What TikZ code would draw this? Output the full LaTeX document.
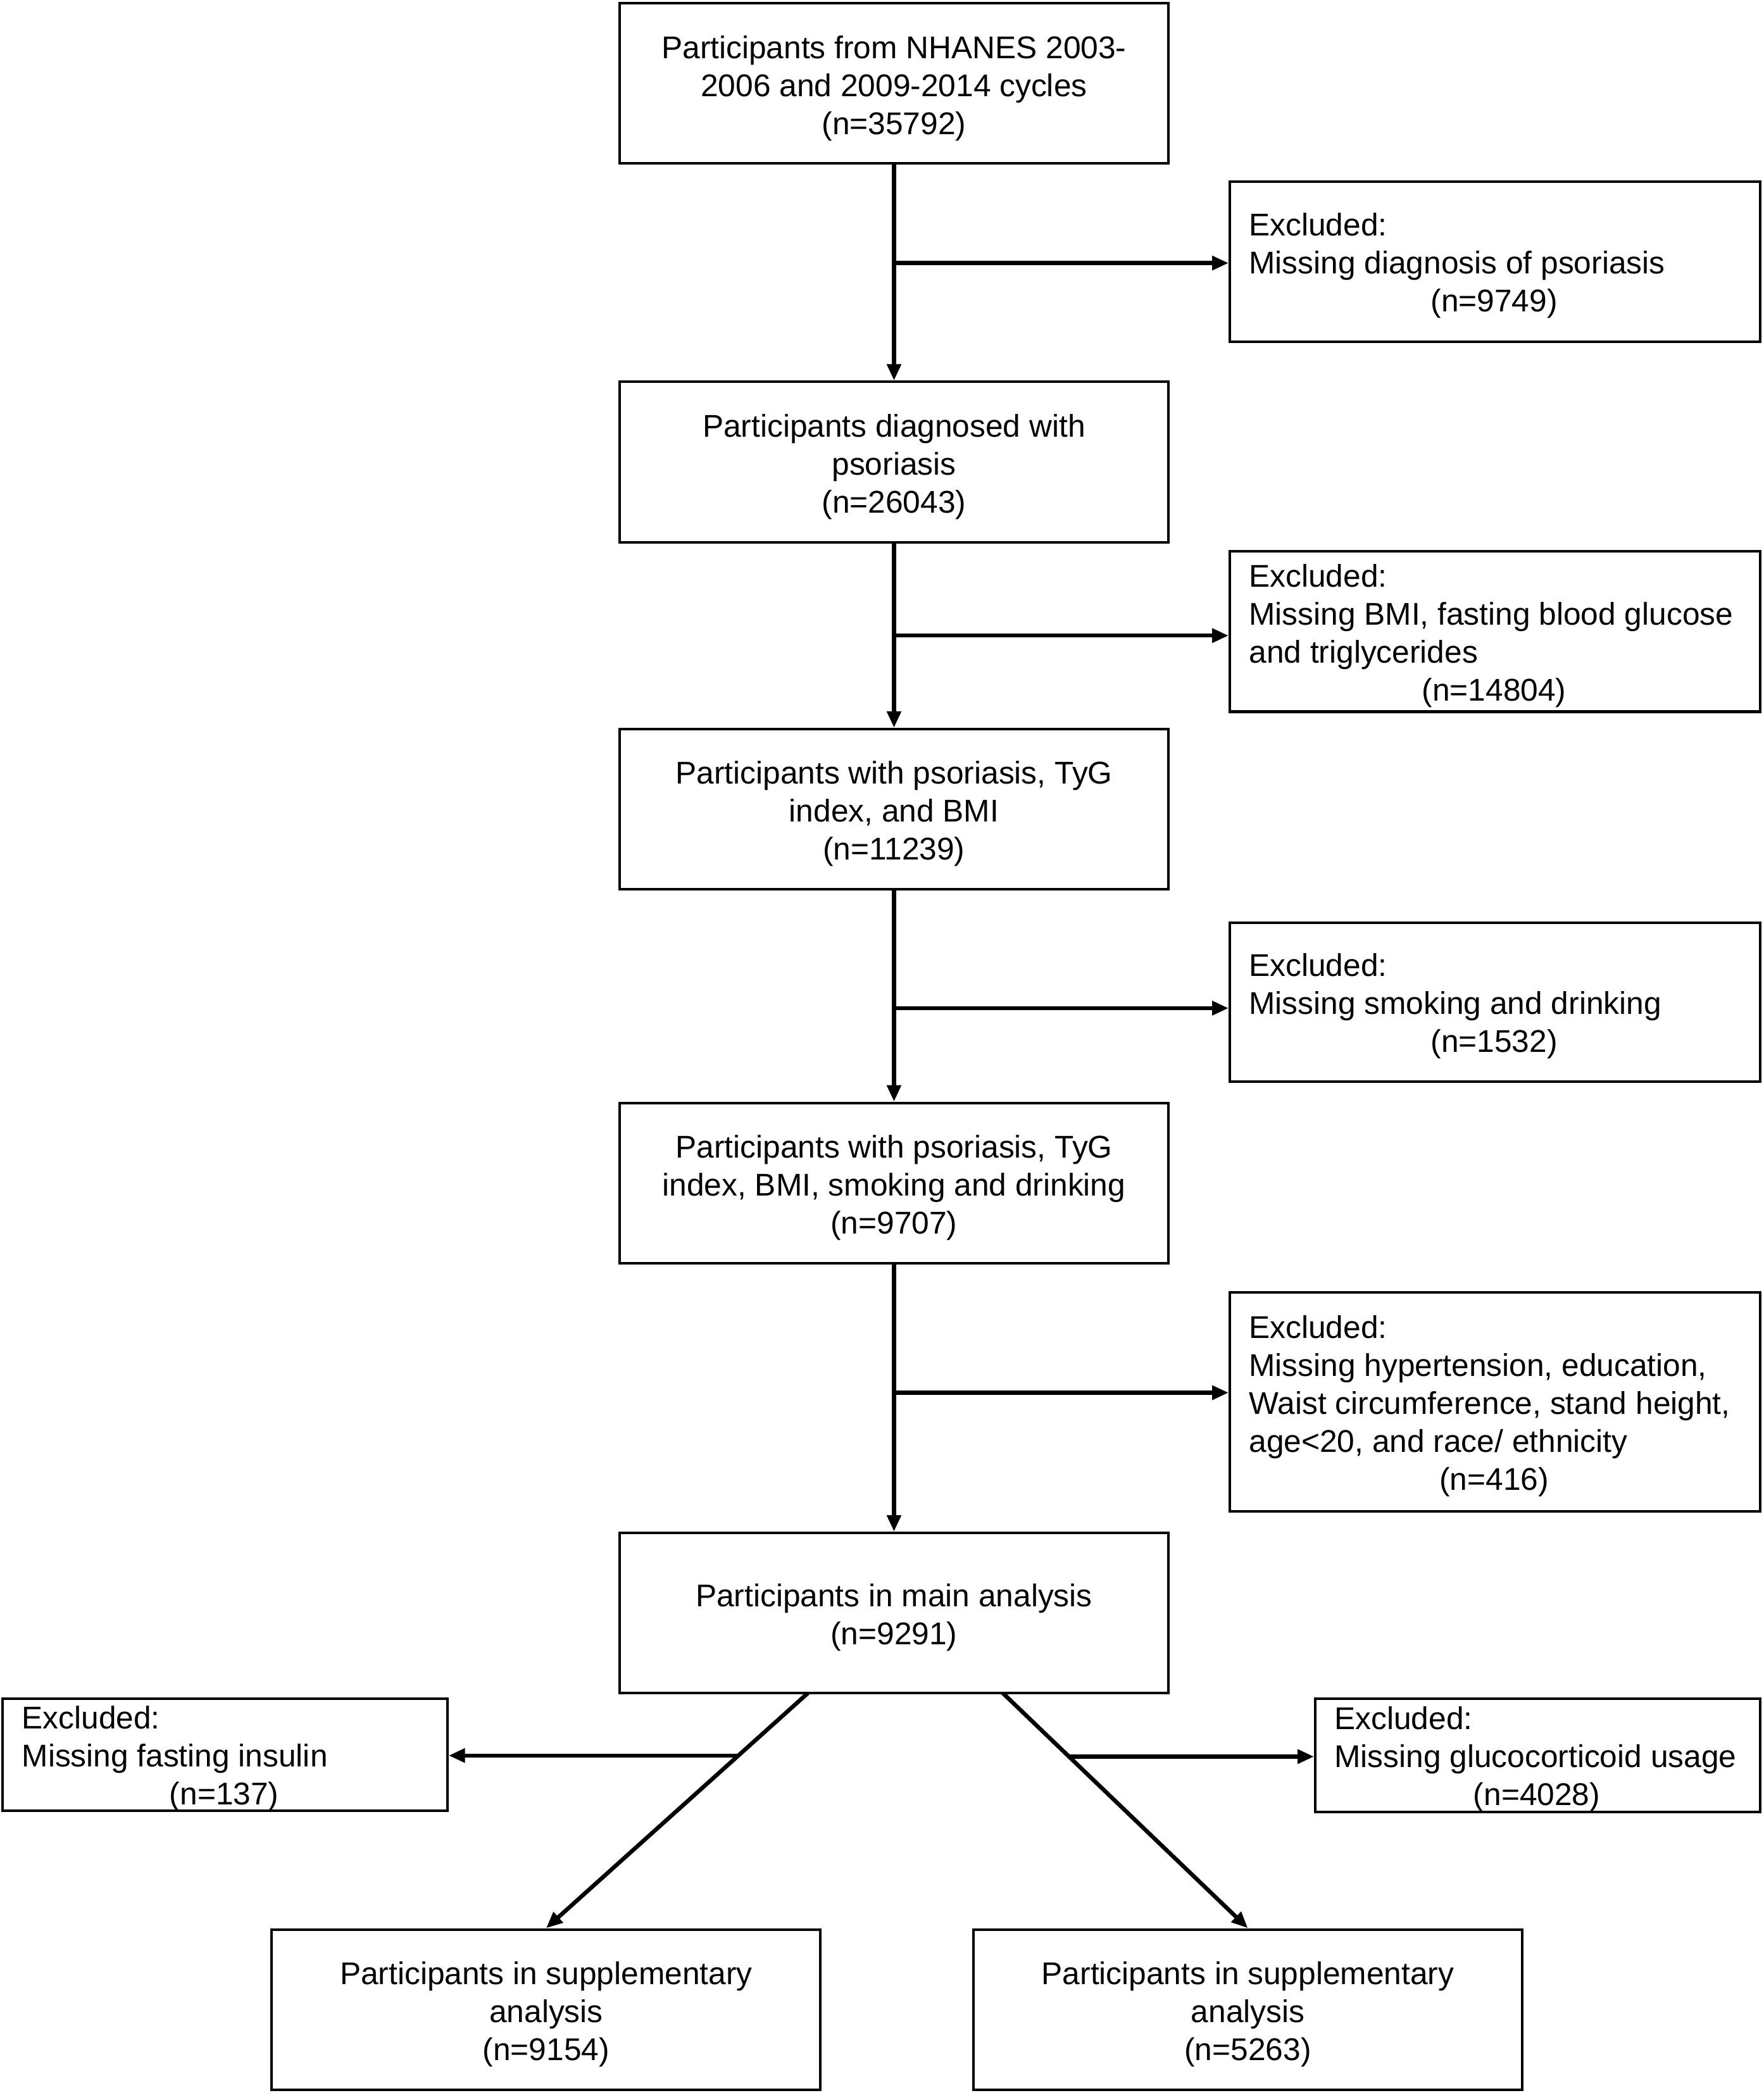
\documentclass[tikz,border=0pt]{standalone}
\usepackage{fontspec}
\setmainfont{Liberation Sans}
\usetikzlibrary{arrows.meta,calc}
\begin{document}
\begin{tikzpicture}[x=0.02cm,y=-0.02cm,
  txt/.style={font=\fontsize{13.4}{16.2}\selectfont},
  mainbox/.style={draw, line width=1.1pt, minimum width=8.22cm, minimum height=2.4cm, inner sep=0pt},
  mtext/.style={align=center, inner sep=0pt, txt},
  exbox/.style={draw, line width=1.1pt, inner sep=0pt},
  extext/.style={anchor=west, align=left, inner sep=0pt, txt},
  arr/.style={line width=1.75pt, -{Triangle[length=7pt,width=5.8pt]}}]
\useasboundingbox (0,0) rectangle (1321,1567.5);

% main column
\node[mainbox] (m1) at (669.5,62.5) {};
\node[mtext] (m1t) at ($(m1)+(0,3.5)$) {Participants from NHANES 2003-\\2006 and 2009-2014 cycles\\(n=35792)};
\node[mainbox] (m2) at (669.5,346) {};
\node[mtext] (m2t) at ($(m2)+(0,3.5)$) {Participants diagnosed with\\psoriasis\\(n=26043)};
\node[mainbox] (m3) at (669.5,606) {};
\node[mtext] (m3t) at ($(m3)+(0,3.5)$) {Participants with psoriasis, TyG\\index, and BMI\\(n=11239)};
\node[mainbox] (m4) at (669.5,886) {};
\node[mtext] (m4t) at ($(m4)+(0,3.5)$) {Participants with psoriasis, TyG\\index, BMI, smoking and drinking\\(n=9707)};
\node[mainbox] (m5) at (669.5,1208) {};
\node[mtext] (m5t) at ($(m5)+(0,3.5)$) {Participants in main analysis\\(n=9291)};
\node[mainbox] (s1) at (409,1505) {};
\node[mtext] (s1t) at ($(s1)+(0,3.5)$) {Participants in supplementary\\analysis\\(n=9154)};
\node[mainbox] (s2) at (934.5,1505) {};
\node[mtext] (s2t) at ($(s2)+(0,3.5)$) {Participants in supplementary\\analysis\\(n=5263)};

% exclusion boxes
\node[exbox, minimum width=7.94cm, minimum height=2.4cm] (e1) at (1119.5,196) {};
\node[extext] (e1t) at ($(e1.west)+(15,3)$) {Excluded:\\Missing diagnosis of psoriasis\\\hspace*{3.67cm}\makebox[0pt]{(n=9749)}};

\node[exbox, minimum width=7.94cm, minimum height=2.4cm] (e2) at (1119.5,473) {};
\node[extext] (e2t) at ($(e2.west)+(15,3)$) {Excluded:\\Missing BMI, fasting blood glucose\\and triglycerides\\\hspace*{3.67cm}\makebox[0pt]{(n=14804)}};

\node[exbox, minimum width=7.94cm, minimum height=2.38cm] (e3) at (1119.5,750.5) {};
\node[extext] (e3t) at ($(e3.west)+(15,3)$) {Excluded:\\Missing smoking and drinking\\\hspace*{3.67cm}\makebox[0pt]{(n=1532)}};

\node[exbox, minimum width=7.94cm, minimum height=3.28cm] (e4) at (1119.5,1050) {};
\node[extext] (e4t) at ($(e4.west)+(15,3)$) {Excluded:\\Missing hypertension, education,\\Waist circumference, stand height,\\age<20, and race/ ethnicity\\\hspace*{3.67cm}\makebox[0pt]{(n=416)}};

\node[exbox, minimum width=6.66cm, minimum height=1.68cm] (eL) at (168.5,1314) {};
\node[extext] (eLt) at ($(eL.west)+(15,3)$) {Excluded:\\Missing fasting insulin\\\hspace*{3.03cm}\makebox[0pt]{(n=137)}};

\node[exbox, minimum width=6.66cm, minimum height=1.7cm] (eR) at (1151.5,1314.5) {};
\node[extext] (eRt) at ($(eR.west)+(15,3)$) {Excluded:\\Missing glucocorticoid usage\\\hspace*{3.03cm}\makebox[0pt]{(n=4028)}};

% vertical arrows
\draw[arr] (m1.south) -- (m2.north);
\draw[arr] (m2.south) -- (m3.north);
\draw[arr] (m3.south) -- (m4.north);
\draw[arr] (m4.south) -- (m5.north);

% branch arrows
\coordinate (b1) at (669.5,197);
\coordinate (b2) at (669.5,476);
\coordinate (b3) at (669.5,755);
\coordinate (b4) at (669.5,1043);
\draw[arr] (b1) -- (b1 -| e1.west);
\draw[arr] (b2) -- (b2 -| e2.west);
\draw[arr] (b3) -- (b3 -| e3.west);
\draw[arr] (b4) -- (b4 -| e4.west);

% diagonals
\coordinate (d1) at (605,1268);
\coordinate (d2) at (751,1268);
\draw[arr] (d1) -- (s1.north);
\draw[arr] (d2) -- (s2.north);
\coordinate (h1) at ($(d1)!0.2655!(s1.north)$);
\coordinate (h2) at ($(d2)!0.27!(s2.north)$);
\draw[arr] (h1) -- (h1 -| eL.east);
\draw[arr] (h2) -- (h2 -| eR.west);
\end{tikzpicture}
\end{document}
